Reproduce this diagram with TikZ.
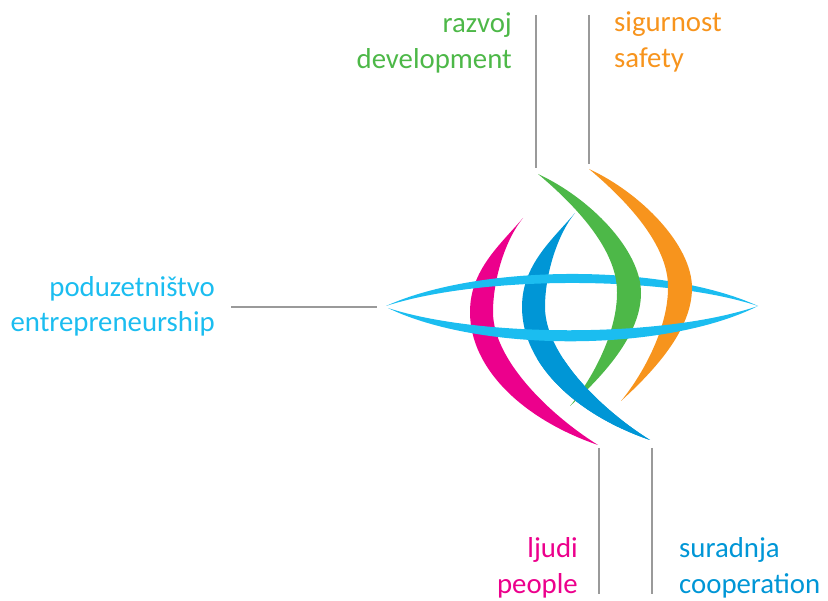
\documentclass[tikz,border=0pt]{standalone}
\usepackage{fontspec}
\setmainfont{Carlito}
\definecolor{cyanc}{HTML}{1BBDF0}
\definecolor{pinkc}{HTML}{EC008C}
\definecolor{bluec}{HTML}{0096D6}
\definecolor{greenc}{HTML}{4DB848}
\definecolor{orangec}{HTML}{F7941D}
\definecolor{leadc}{HTML}{9A9A9A}
\begin{document}
\begin{tikzpicture}[x=1pt,y=-1pt,
  lbl/.style={inner sep=0pt,font=\fontsize{28.8}{35}\selectfont},
  lead/.style={draw=leadc,line width=1.3pt},
  lcres/.style={insert path={(523,218) .. controls (500,245) and (470,270) .. (470,312)
     .. controls (470,370) and (525,420) .. (598,445)
     .. controls (550,415) and (493,360) .. (493,312)
     .. controls (493,280) and (505,240) .. (523,218) -- cycle}},
  rcres/.style={insert path={(538,174) .. controls (590,198) and (641,250) .. (641,293)
     .. controls (641,335) and (603,376) .. (570,406)
     .. controls (590,382) and (617,335) .. (617,293)
     .. controls (618,250) and (575,205) .. (538,174) -- cycle}},
  upband/.style={insert path={(386,306) .. controls (480,263.3) and (665,263.3) .. (758,306)
     .. controls (665,275.3) and (480,275.3) .. (386,306) -- cycle}},
  lowband/.style={insert path={(388,308) .. controls (480,352.7) and (665,352.7) .. (758,306)
     .. controls (665,338) and (480,338) .. (388,308) -- cycle}}
]
\useasboundingbox (0,0) rectangle (828,601);
% crescents and bands
\fill[pinkc, lcres];
\begin{scope}[shift={(52,-5)}]
  \fill[bluec, lcres];
\end{scope}
\fill[cyanc, upband];
\fill[greenc, rcres];
\begin{scope}[shift={(51,-5)}]
  \fill[orangec, rcres];
\end{scope}
\begin{scope}
  \clip (500,360) rectangle (700,470);
  \begin{scope}[shift={(52,-5)}]
    \fill[bluec, lcres];
  \end{scope}
\end{scope}
\fill[cyanc, lowband];
% labels
\node[lbl, text=greenc, anchor=base east] (razvoj) at (512,33) {razvoj};
\node[lbl, text=greenc, anchor=base east] (development) at (512,68.5) {development};
\node[lbl, text=orangec, anchor=base west] (sigurnost) at (614,32) {sigurnost};
\node[lbl, text=orangec, anchor=base west] (safety) at (614,68) {safety};
\node[lbl, text=cyanc, anchor=base east] (poduz) at (215,297) {poduzetništvo};
\node[lbl, text=cyanc, anchor=base east] (entre) at (215,332) {entrepreneurship};
\node[lbl, text=pinkc, anchor=base east] (ljudi) at (578,558) {ljudi};
\node[lbl, text=pinkc, anchor=base east] (people) at (578,593) {people};
\node[lbl, text=bluec, anchor=base west] (suradnja) at (679,558) {suradnja};
\node[lbl, text=bluec, anchor=base west] (cooperation) at (679,593) {cooperation};
% leader lines
\coordinate (g1) at (536,15); \coordinate (g2) at (536,168);
\coordinate (o1) at (589,15); \coordinate (o2) at (589,164);
\coordinate (c1) at (231,307); \coordinate (c2) at (377,307);
\coordinate (p1) at (599,448); \coordinate (p2) at (599,594);
\coordinate (b1) at (652,448); \coordinate (b2) at (652,594);
\draw[lead] (g1) -- (g2);
\draw[lead] (o1) -- (o2);
\draw[lead] (c1) -- (c2);
\draw[lead] (p1) -- (p2);
\draw[lead] (b1) -- (b2);
\end{tikzpicture}
\end{document}
